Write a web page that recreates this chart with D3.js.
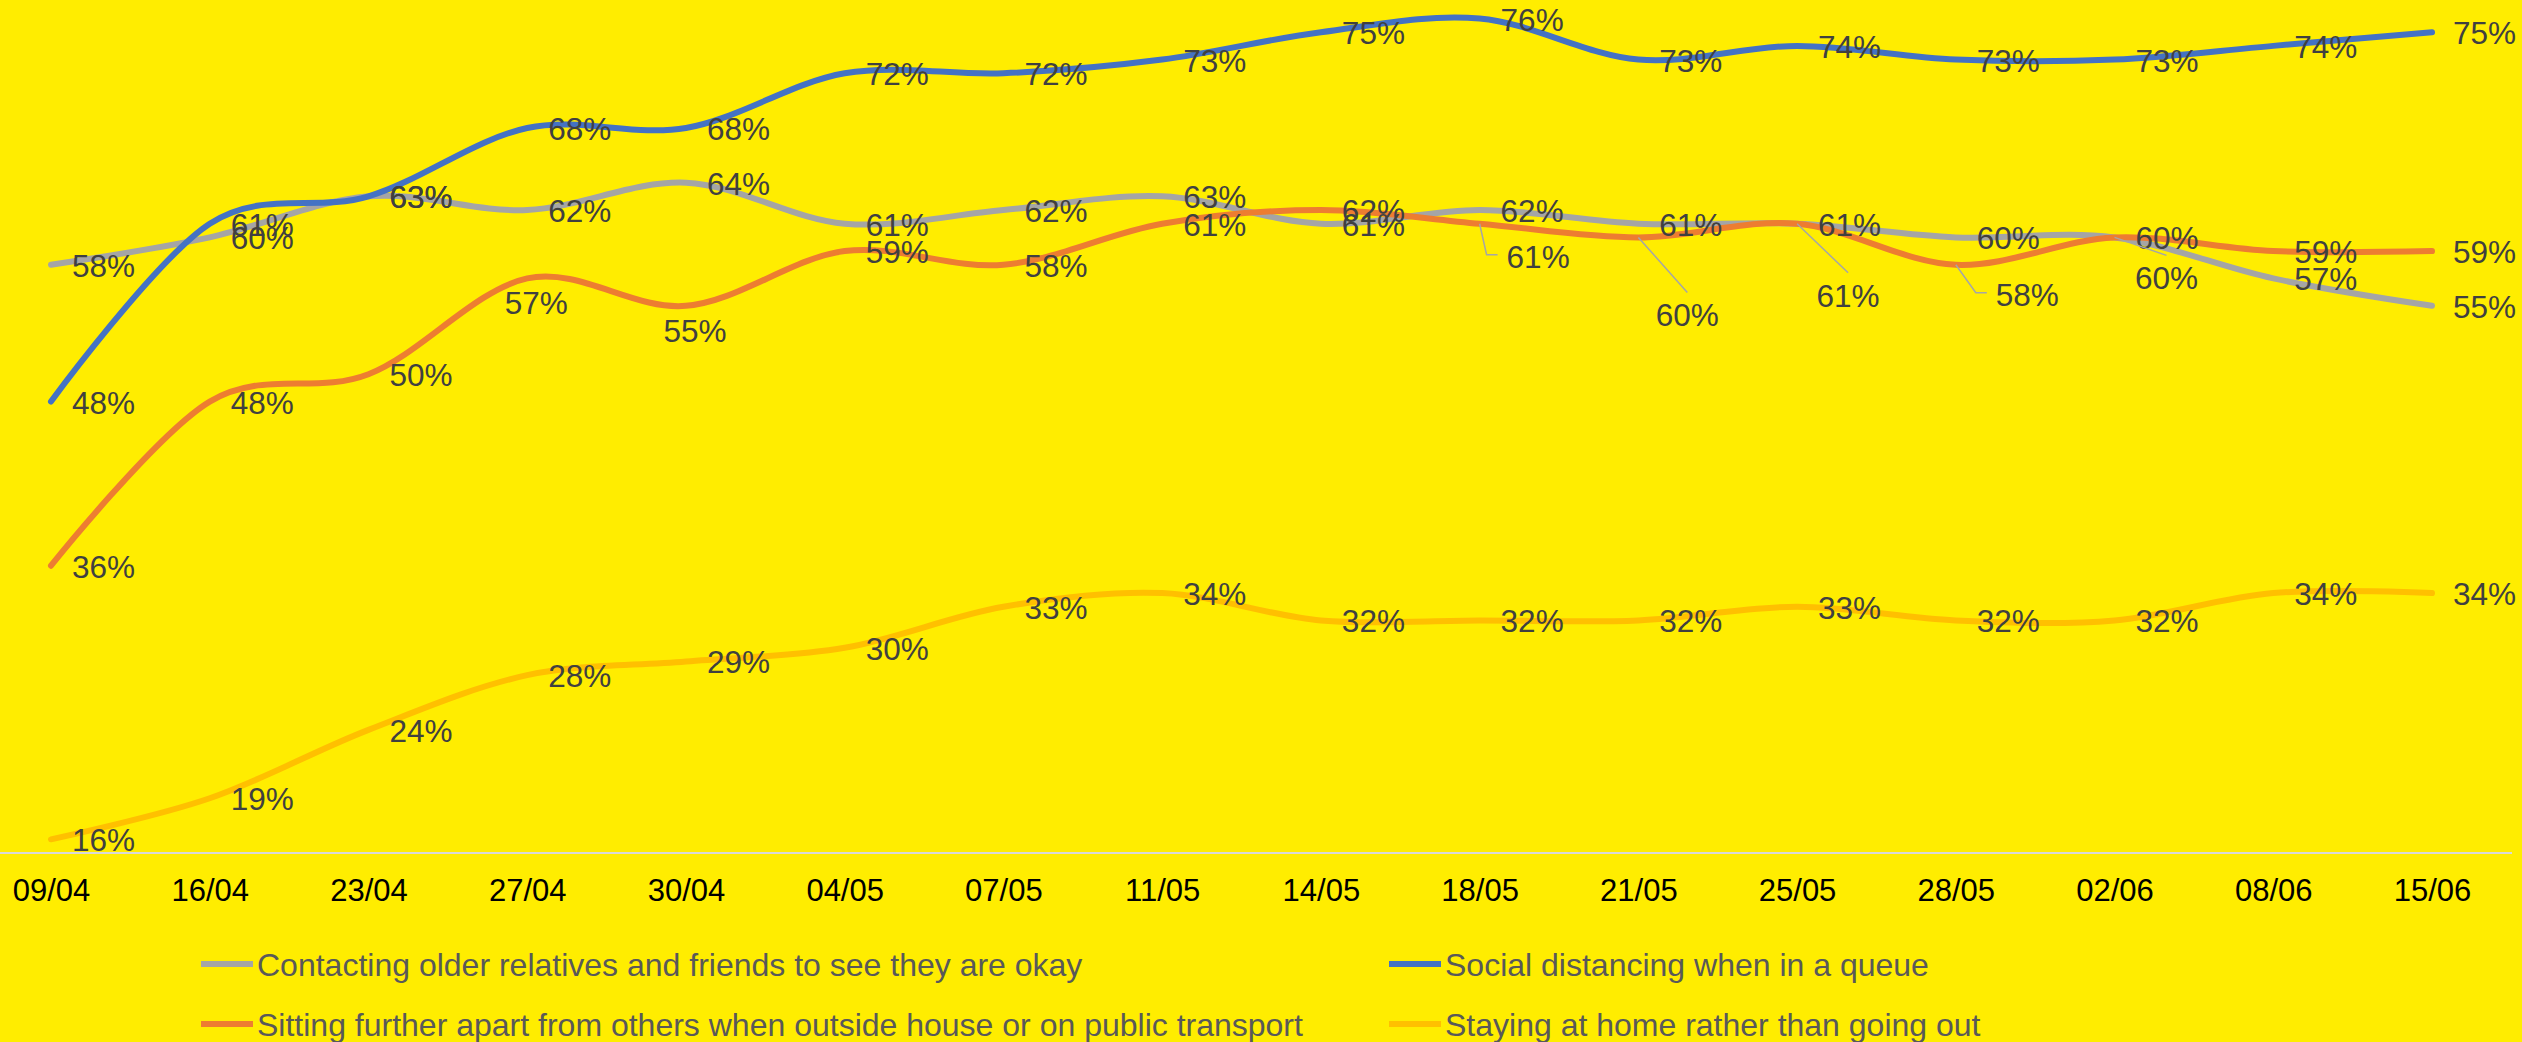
<!DOCTYPE html>
<html>
<head>
<meta charset="utf-8">
<script src="https://cdn.jsdelivr.net/npm/d3@7"></script>
<style>
  html, body { margin: 0; padding: 0; background: #FFED00; }
  svg { display: block; font-family: "Liberation Sans", Arial, sans-serif; }
</style>
</head>
<body>
<div id="chart"></div>
<script>
// data
const dates = ["09/04", "16/04", "23/04", "27/04", "30/04", "04/05", "07/05", "11/05",
               "14/05", "18/05", "21/05", "25/05", "28/05", "02/06", "08/06", "15/06"];

const contacting = [58, 60, 63, 62, 64, 61, 62, 63, 61, 62, 61, 61, 60, 60, 57, 55];
const distancing = [48, 61, 63, 68, 68, 72, 72, 73, 75, 76, 73, 74, 73, 73, 74, 75];
const sitting    = [36, 48, 50, 57, 55, 59, 58, 61, 62, 61, 60, 61, 58, 60, 59, 59];
const staying    = [16, 19, 24, 28, 29, 30, 33, 34, 32, 32, 32, 33, 32, 32, 34, 34];

const seriesNames = [
  "Contacting older relatives and friends to see they are okay",
  "Social distancing when in a queue",
  "Sitting further apart from others when outside house or on public transport",
  "Staying at home rather than going out"
];
const seriesColors = ["#A5A5A5", "#4472C4", "#ED7D31", "#FFC000"];

const series = [contacting, distancing, sitting, staying].map((values, i) => ({
  name: seriesNames[i], color: seriesColors[i], values
}));

// label placement tweaks (series index -> point index -> placement)
// "below" = under the point, otherwise moved labels with a leader line
const labelMoves = {
  2: {
    3: { kind: "below" },
    4: { kind: "below" },
    9:  { kind: "leader", anchor: "start",  dx: 27, dy: 33 },
    10: { kind: "leader", anchor: "middle", dx: 49, dy: 78 },
    11: { kind: "leader", anchor: "middle", dx: 51, dy: 72 },
    12: { kind: "leader", anchor: "start",  dx: 40, dy: 30 }
  },
  0: {
    13: { kind: "leader", anchor: "middle", dx: 52, dy: 41 }
  }
};

const width = 2522, height = 1042;
const axisY = 853;

const svg = d3.select("#chart").append("svg")
    .attr("width", width)
    .attr("height", height);

svg.append("rect")
    .attr("width", width).attr("height", height)
    .attr("fill", "#FFED00");

const x = d3.scalePoint()
    .domain(dates)
    .range([51, 2432]);

const y = d3.scaleLinear()
    .domain([15, 80])
    .range([axisY, -36.2]);

// ─── X AXIS ─────────────────────────────
const xAxis = svg.append("g")
    .attr("transform", `translate(0,${axisY})`)
    .call(d3.axisBottom(x).tickSize(0).tickPadding(26));
xAxis.select(".domain").remove();
xAxis.selectAll("text")
    .attr("font-size", 31)
    .attr("fill", "#000")
    .attr("font-family", "Liberation Sans, Arial, sans-serif");

svg.append("line")
    .attr("x1", 0).attr("x2", 2512)
    .attr("y1", axisY).attr("y2", axisY)
    .attr("stroke", "#D9D9D9")
    .attr("stroke-width", 2);

// ─── LINES ──────────────────────────────
const line = d3.line()
    .x((d, i) => x(dates[i]))
    .y(d => y(d))
    .curve(d3.curveCardinal.tension(0));

svg.append("g").selectAll("path")
    .data(series)
    .join("path")
    .attr("d", d => line(d.values))
    .attr("fill", "none")
    .attr("stroke", d => d.color)
    .attr("stroke-width", 6)
    .attr("stroke-linecap", "round");

// ─── DATA LABELS ────────────────────────
const labels = svg.append("g")
    .attr("font-size", 31.5)
    .attr("fill", "#404040");

series.forEach((s, si) => {
  s.values.forEach((v, i) => {
    const px = x(dates[i]), py = y(v);
    const move = (labelMoves[si] || {})[i];
    const t = labels.append("text")
        .attr("dominant-baseline", "central")
        .text(v + "%");
    if (!move) {
      t.attr("x", px + 21).attr("y", py + 1);
    } else if (move.kind === "below") {
      t.attr("x", px + 9).attr("y", py + 25).attr("text-anchor", "middle");
    } else {
      const lx = px + move.dx, ly = py + move.dy;
      t.attr("x", lx).attr("y", ly).attr("text-anchor", move.anchor);
      let pts;
      if (move.anchor === "start") {
        pts = [[px, py], [lx - 20, ly - 2], [lx - 9, ly - 2]];
      } else {
        pts = [[px, py], [lx, ly - 23]];
      }
      svg.append("path")
          .attr("d", d3.line()(pts))
          .attr("fill", "none")
          .attr("stroke", "#A6A6A6")
          .attr("stroke-width", 1.5);
    }
  });
});

// ─── LEGEND ─────────────────────────────
const legendX = [201, 1389];
const legendY = [964, 1024];

const legend = svg.append("g");
series.forEach((s, i) => {
  const lx = legendX[i % 2], ly = legendY[Math.floor(i / 2)];
  legend.append("line")
      .attr("x1", lx).attr("x2", lx + 52)
      .attr("y1", ly).attr("y2", ly)
      .attr("stroke", s.color)
      .attr("stroke-width", 6);
  legend.append("text")
      .attr("x", lx + 56)
      .attr("y", ly + 1)
      .attr("dominant-baseline", "central")
      .attr("font-size", 32)
      .attr("fill", "#595959")
      .text(s.name);
});
</script>
</body>
</html>
